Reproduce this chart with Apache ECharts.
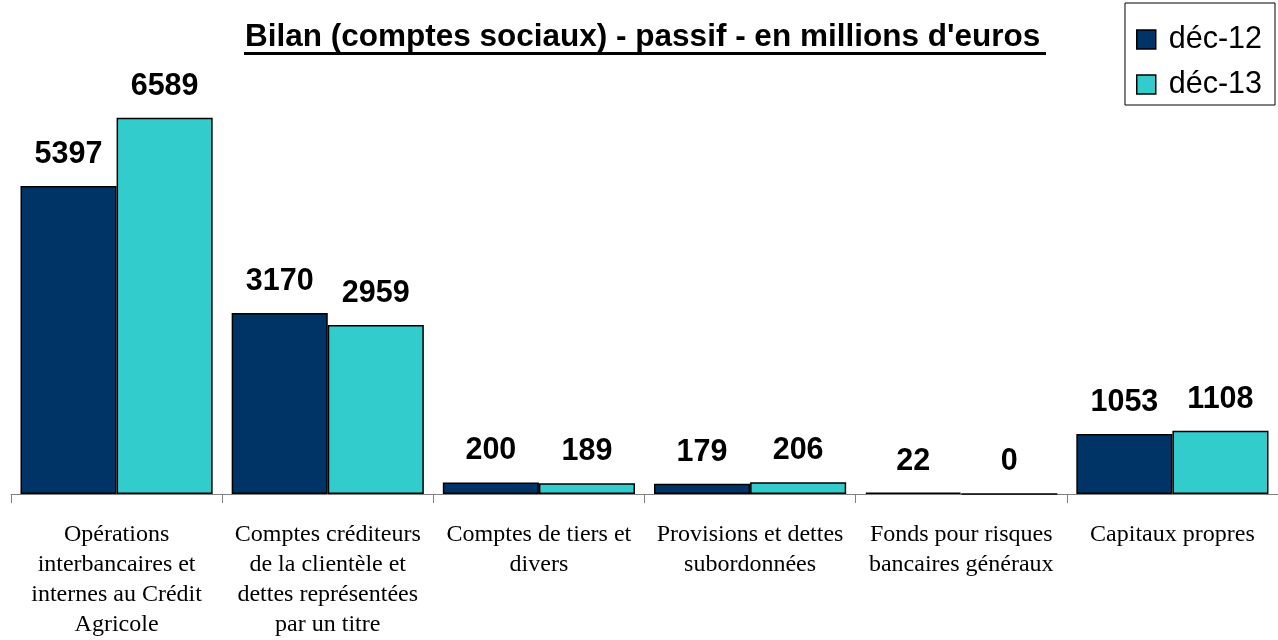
<!DOCTYPE html>
<html>
<head>
<meta charset="utf-8">
<script src="https://cdn.jsdelivr.net/npm/echarts@6/dist/echarts.min.js"></script>
<style>
html,body{margin:0;padding:0;background:#fff;}
#chart{width:1278px;height:640px;}
</style>
</head>
<body>
<div id="chart"></div>
<script>
const titleText = "Bilan (comptes sociaux) - passif - en millions d'euros";
const categories = [
  "Opérations\ninterbancaires et\ninternes au Crédit\nAgricole",
  "Comptes créditeurs\nde la clientèle et\ndettes représentées\npar un titre",
  "Comptes de tiers et\ndivers",
  "Provisions et dettes\nsubordonnées",
  "Fonds pour risques\nbancaires généraux",
  "Capitaux propres"
];
const seriesNames = ["déc-12", "déc-13"];
const dec12 = [5397, 3170, 200, 179, 22, 1053];
const dec13 = [6589, 2959, 189, 206, 0, 1108];

const chart = echarts.init(document.getElementById('chart'), null, {renderer: 'canvas'});
const labelStyle = {
  show: true,
  position: 'top',
  distance: 16,
  color: '#000',
  fontFamily: 'Liberation Sans, Arial, sans-serif',
  fontWeight: 'bold',
  fontSize: 30.5
};
chart.setOption({
  animation: false,
  backgroundColor: '#fff',
  title: {
    text: titleText,
    left: 245,
    top: 21,
    padding: 0,
    textStyle: {
      fontFamily: 'Liberation Sans, Arial, sans-serif',
      fontWeight: 'bold',
      fontSize: 31.5,
      color: '#000'
    }
  },
  graphic: [{
    type: 'rect',
    shape: {x: 244, y: 52, width: 802, height: 3},
    style: {fill: '#000'}
  }],
  legend: {
    orient: 'vertical',
    right: 3,
    top: 3,
    padding: [21, 13, 5, 11],
    borderColor: '#000',
    borderWidth: 1,
    itemWidth: 19,
    itemHeight: 19,
    itemGap: 14,
    itemStyle: {borderColor: '#000', borderWidth: 1.5},
    textStyle: {
      fontFamily: 'Liberation Sans, Arial, sans-serif',
      fontSize: 30.5,
      color: '#000',
      padding: [0, 0, 0, 8]
    },
    data: seriesNames.map(n => ({name: n, icon: 'rect'}))
  },
  grid: {
    left: 11,
    width: 1280,
    top: 94.4,
    bottom: 143,
    containLabel: false
  },
  xAxis: {
    type: 'category',
    data: categories,
    boundaryGap: true,
    axisLine: {show: true, lineStyle: {color: '#808080', width: 1}},
    axisTick: {show: true, length: 9, lineStyle: {color: '#808080'}},
    axisLabel: {
      interval: 0,
      margin: 26,
      color: '#000',
      fontFamily: 'Liberation Serif, Times New Roman, serif',
      fontSize: 24,
      lineHeight: 30,
      align: 'center'
    }
  },
  yAxis: {
    type: 'value',
    min: 0,
    max: 7000,
    show: false,
    splitLine: {show: false}
  },
  series: [
    {
      name: seriesNames[0],
      type: 'bar',
      data: dec12,
      barGap: '0%',
      barCategoryGap: '9%',
      itemStyle: {color: '#003366', borderColor: '#000', borderWidth: 1.5},
      label: labelStyle
    },
    {
      name: seriesNames[1],
      type: 'bar',
      data: dec13,
      barGap: '0%',
      barCategoryGap: '9%',
      itemStyle: {color: '#33CCCC', borderColor: '#000', borderWidth: 1.5},
      label: labelStyle
    }
  ]
});
</script>
</body>
</html>
